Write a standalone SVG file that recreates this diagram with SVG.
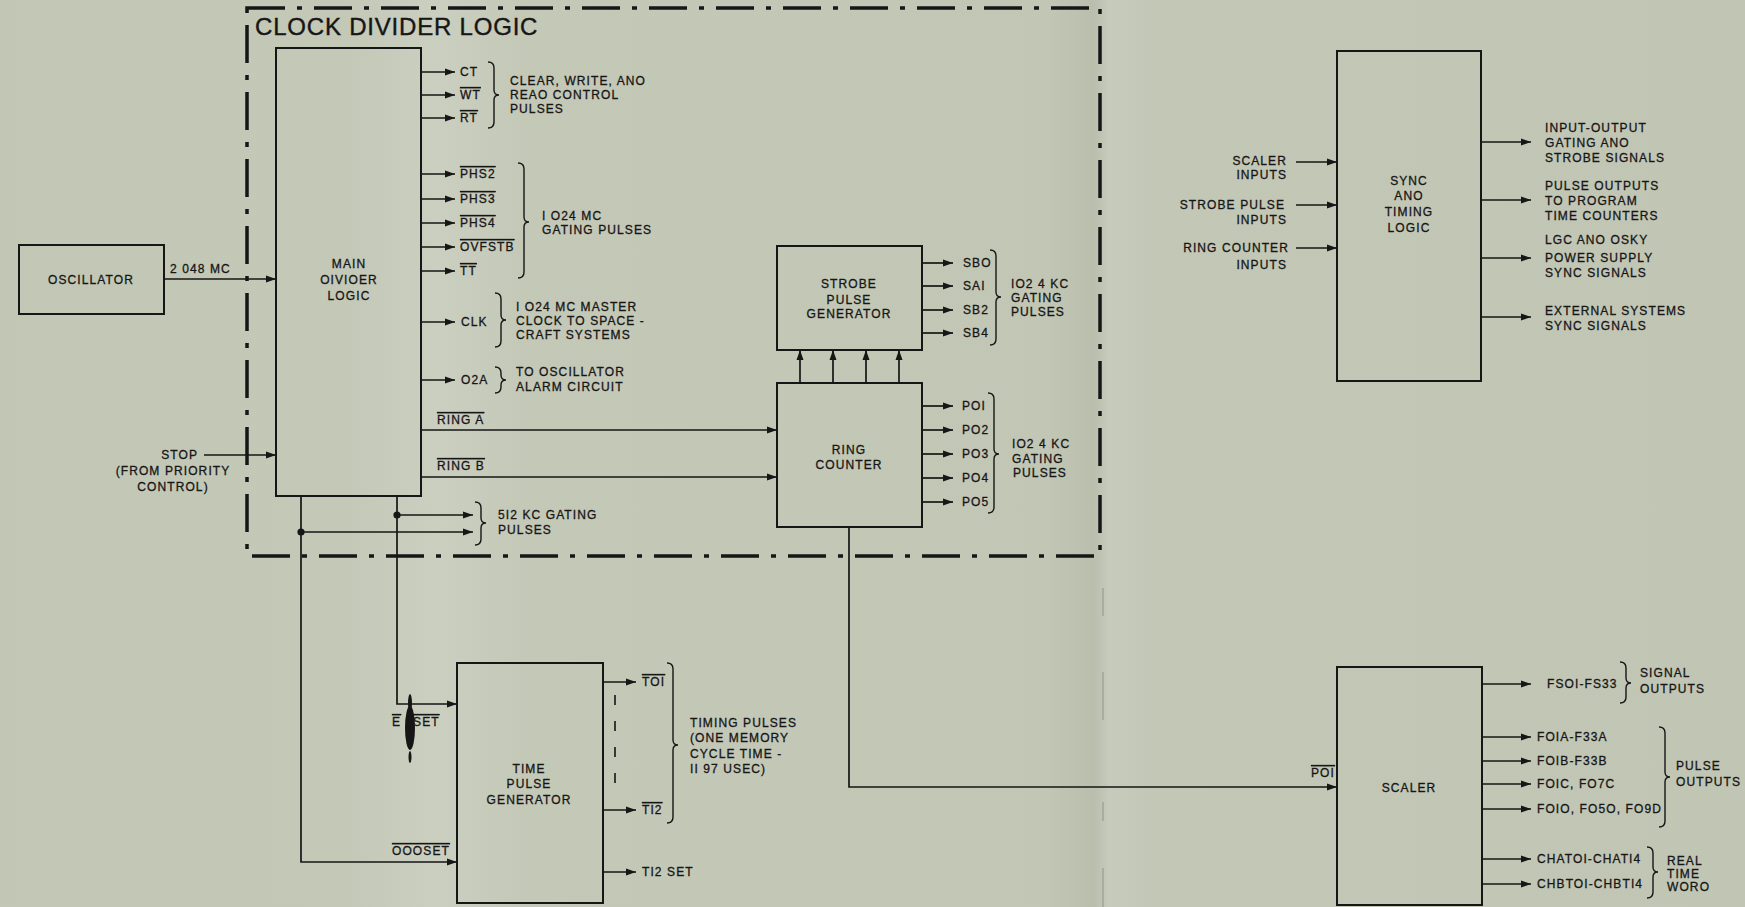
<svg xmlns="http://www.w3.org/2000/svg" width="1745" height="907" viewBox="0 0 1745 907">
<defs>
<linearGradient id="paper" x1="0" y1="0" x2="1745" y2="0" gradientUnits="userSpaceOnUse">
<stop offset="0" stop-color="#c2c6b5"/>
<stop offset="0.2" stop-color="#c4c8b7"/>
<stop offset="0.25" stop-color="#cbcfc0"/>
<stop offset="0.3" stop-color="#c4c8b7"/>
<stop offset="0.6" stop-color="#c2c6b5"/>
<stop offset="0.627" stop-color="#babead"/>
<stop offset="0.636" stop-color="#c7cbbc"/>
<stop offset="0.66" stop-color="#c3c7b6"/>
<stop offset="1" stop-color="#c1c5b4"/>
</linearGradient>
<marker id="ah" markerUnits="userSpaceOnUse" markerWidth="11" markerHeight="8" refX="10" refY="4" orient="auto">
<path d="M0,0.5 L10,4 L0,7.5 z" fill="#161616"/>
</marker>
<style>
text{font-family:"Liberation Sans",Arial,sans-serif;font-size:12px;letter-spacing:1.1px;fill:#161616;stroke:#161616;stroke-width:0.3px}
.title{font-size:24px;letter-spacing:0.8px;stroke-width:0.4px}
.mid{text-anchor:middle}
.end{text-anchor:end}
.ov{text-decoration:overline}
.box{fill:none;stroke:#161616;stroke-width:2}
.ln{fill:none;stroke:#161616;stroke-width:1.6}
.ar{fill:none;stroke:#161616;stroke-width:1.7;marker-end:url(#ah)}
.br{fill:none;stroke:#161616;stroke-width:1.4}
.dot{fill:#161616}
.bound{fill:none;stroke:#161616;stroke-width:3.5;stroke-dasharray:38 12 5 12}
.fold{fill:none;stroke:#8f948a;stroke-width:1}
</style>
</defs>
<rect x="0" y="0" width="1745" height="907" fill="url(#paper)"/>

<g id="clock-divider-boundary">
<rect class="bound" x="247" y="8" width="853" height="548"/>
<text class="title" x="255" y="35">CLOCK DIVIDER LOGIC</text>
</g>
<path class="fold" d="M1103,588 V616 M1103,672 V720 M1103,802 V821 M1103,868 V907"/>

<g id="oscillator">
<rect class="box" x="19" y="245" width="145" height="69"/>
<text class="mid" x="91" y="284">OSCILLATOR</text>
</g>

<g id="main-divider">
<rect class="box" x="276" y="48" width="145" height="448"/>
<text class="mid" x="349" y="268">MAIN</text>
<text class="mid" x="349" y="284">OIVIOER</text>
<text class="mid" x="349" y="300">LOGIC</text>
</g>

<g id="strobe-pulse-generator">
<rect class="box" x="777" y="246" width="145" height="104"/>
<text class="mid" x="849" y="288">STROBE</text>
<text class="mid" x="849" y="304">PULSE</text>
<text class="mid" x="849" y="318">GENERATOR</text>
</g>

<g id="ring-counter">
<rect class="box" x="777" y="383" width="145" height="144"/>
<text class="mid" x="849" y="454">RING</text>
<text class="mid" x="849" y="469">COUNTER</text>
</g>

<g id="time-pulse-generator">
<rect class="box" x="457" y="663" width="146" height="240"/>
<text class="mid" x="529" y="773">TIME</text>
<text class="mid" x="529" y="788">PULSE</text>
<text class="mid" x="529" y="804">GENERATOR</text>
</g>

<g id="sync-timing-logic">
<rect class="box" x="1337" y="51" width="144" height="330"/>
<text class="mid" x="1409" y="185">SYNC</text>
<text class="mid" x="1409" y="200">ANO</text>
<text class="mid" x="1409" y="216">TIMING</text>
<text class="mid" x="1409" y="232">LOGIC</text>
</g>

<g id="scaler">
<rect class="box" x="1337" y="667" width="145" height="238"/>
<text class="mid" x="1409" y="792">SCALER</text>
</g>

<g id="connectors">
<line class="ar" x1="164" y1="279" x2="276" y2="279"/>
<line class="ar" x1="204" y1="455" x2="276" y2="455"/>
<line class="ar" x1="421" y1="72" x2="455" y2="72"/>
<line class="ar" x1="421" y1="95" x2="455" y2="95"/>
<line class="ar" x1="421" y1="118" x2="455" y2="118"/>
<line class="ar" x1="421" y1="174" x2="455" y2="174"/>
<line class="ar" x1="421" y1="199" x2="455" y2="199"/>
<line class="ar" x1="421" y1="223" x2="455" y2="223"/>
<line class="ar" x1="421" y1="247" x2="455" y2="247"/>
<line class="ar" x1="421" y1="271" x2="455" y2="271"/>
<line class="ar" x1="421" y1="322" x2="455" y2="322"/>
<line class="ar" x1="421" y1="380" x2="455" y2="380"/>
<line class="ar" x1="421" y1="430" x2="777" y2="430"/>
<line class="ar" x1="421" y1="477" x2="777" y2="477"/>
<line class="ar" x1="800" y1="383" x2="800" y2="350"/>
<line class="ar" x1="833" y1="383" x2="833" y2="350"/>
<line class="ar" x1="866" y1="383" x2="866" y2="350"/>
<line class="ar" x1="899" y1="383" x2="899" y2="350"/>
<line class="ar" x1="922" y1="263" x2="953" y2="263"/>
<line class="ar" x1="922" y1="286" x2="953" y2="286"/>
<line class="ar" x1="922" y1="310" x2="953" y2="310"/>
<line class="ar" x1="922" y1="333" x2="953" y2="333"/>
<line class="ar" x1="922" y1="406" x2="953" y2="406"/>
<line class="ar" x1="922" y1="430" x2="953" y2="430"/>
<line class="ar" x1="922" y1="454" x2="953" y2="454"/>
<line class="ar" x1="922" y1="478" x2="953" y2="478"/>
<line class="ar" x1="922" y1="502" x2="953" y2="502"/>
<path class="ar" d="M397,496 V704 H457"/>
<path class="ar" d="M301,496 V862 H457"/>
<line class="ar" x1="397" y1="515" x2="473" y2="515"/>
<line class="ar" x1="301" y1="532" x2="473" y2="532"/>
<circle class="dot" cx="397" cy="515" r="3.6"/>
<circle class="dot" cx="301" cy="532" r="3.6"/>
<path class="ar" d="M849,527 V787 H1337"/>
<line class="ar" x1="603" y1="682" x2="636" y2="682"/>
<line class="ar" x1="603" y1="810" x2="636" y2="810"/>
<line class="ar" x1="603" y1="872" x2="636" y2="872"/>
<line class="ln" x1="615" y1="695" x2="615" y2="798" stroke-dasharray="10 16"/>
<line class="ar" x1="1296" y1="162" x2="1337" y2="162"/>
<line class="ar" x1="1296" y1="205" x2="1337" y2="205"/>
<line class="ar" x1="1296" y1="248" x2="1337" y2="248"/>
<line class="ar" x1="1481" y1="142" x2="1531" y2="142"/>
<line class="ar" x1="1481" y1="200" x2="1531" y2="200"/>
<line class="ar" x1="1481" y1="258" x2="1531" y2="258"/>
<line class="ar" x1="1481" y1="317" x2="1531" y2="317"/>
<line class="ar" x1="1482" y1="684" x2="1531" y2="684"/>
<line class="ar" x1="1482" y1="737" x2="1531" y2="737"/>
<line class="ar" x1="1482" y1="761" x2="1531" y2="761"/>
<line class="ar" x1="1482" y1="784" x2="1531" y2="784"/>
<line class="ar" x1="1482" y1="809" x2="1531" y2="809"/>
<line class="ar" x1="1482" y1="859" x2="1531" y2="859"/>
<line class="ar" x1="1482" y1="884" x2="1531" y2="884"/>
</g>

<g id="braces">
<path class="br" d="M488 62 Q494 62 494 68 V90 Q494 95 499 95 Q494 95 494 100 V122 Q494 128 488 128"/>
<path class="br" d="M518 163 Q524 163 524 169 V217 Q524 222 529 222 Q524 222 524 227 V272 Q524 278 518 278"/>
<path class="br" d="M495 293 Q501 293 501 299 V315 Q501 320 506 320 Q501 320 501 325 V341 Q501 347 495 347"/>
<path class="br" d="M495 367 Q501 367 501 373 V375 Q501 380 506 380 Q501 380 501 385 V387 Q501 393 495 393"/>
<path class="br" d="M475 502 Q481 502 481 508 V518 Q481 523 486 523 Q481 523 481 528 V539 Q481 545 475 545"/>
<path class="br" d="M990 250 Q996 250 996 256 V292 Q996 297 1001 297 Q996 297 996 302 V339 Q996 345 990 345"/>
<path class="br" d="M988 393 Q994 393 994 399 V449 Q994 454 999 454 Q994 454 994 459 V507 Q994 513 988 513"/>
<path class="br" d="M667 663 Q673 663 673 669 V740 Q673 745 678 745 Q673 745 673 750 V817 Q673 823 667 823"/>
<path class="br" d="M1620 662 Q1626 662 1626 668 V678 Q1626 683 1631 683 Q1626 683 1626 688 V697 Q1626 703 1620 703"/>
<path class="br" d="M1659 727 Q1665 727 1665 733 V772 Q1665 777 1670 777 Q1665 777 1665 782 V821 Q1665 827 1659 827"/>
<path class="br" d="M1647 847 Q1653 847 1653 853 V867 Q1653 872 1658 872 Q1653 872 1653 877 V892 Q1653 898 1647 898"/>
</g>

<g id="labels">
<text x="170" y="273">2 048 MC</text>
<text class="end" x="198" y="459">STOP</text>
<text class="mid" x="173" y="475">(FROM PRIORITY</text>
<text class="mid" x="173" y="491">CONTROL)</text>

<text x="460" y="76">CT</text>
<text class="ov" x="460" y="99">WT</text>
<text class="ov" x="460" y="122">RT</text>
<text x="510" y="85">CLEAR, WRITE, ANO</text>
<text x="510" y="99">REAO CONTROL</text>
<text x="510" y="113">PULSES</text>

<text class="ov" x="460" y="178">PHS2</text>
<text class="ov" x="460" y="203">PHS3</text>
<text class="ov" x="460" y="227">PHS4</text>
<text class="ov" x="460" y="251">OVFSTB</text>
<text class="ov" x="460" y="275">TT</text>
<text x="542" y="220">I O24 MC</text>
<text x="542" y="234">GATING PULSES</text>

<text x="461" y="326">CLK</text>
<text x="516" y="311">I O24 MC MASTER</text>
<text x="516" y="325">CLOCK TO SPACE -</text>
<text x="516" y="339">CRAFT SYSTEMS</text>

<text x="461" y="384">O2A</text>
<text x="516" y="376">TO OSCILLATOR</text>
<text x="516" y="391">ALARM CIRCUIT</text>

<text class="ov" x="437" y="424">RING A</text>
<text class="ov" x="437" y="470">RING B</text>

<text x="498" y="519">5I2 KC GATING</text>
<text x="498" y="534">PULSES</text>

<text x="963" y="267">SBO</text>
<text x="963" y="290">SAI</text>
<text x="963" y="314">SB2</text>
<text x="963" y="337">SB4</text>
<text x="1011" y="288">IO2 4 KC</text>
<text x="1011" y="302">GATING</text>
<text x="1011" y="316">PULSES</text>

<text x="962" y="410">POI</text>
<text x="962" y="434">PO2</text>
<text x="962" y="458">PO3</text>
<text x="962" y="482">PO4</text>
<text x="962" y="506">PO5</text>
<text x="1012" y="448">IO2 4 KC</text>
<text x="1012" y="463">GATING</text>
<text x="1013" y="477">PULSES</text>

<text class="ov" x="392" y="726">E<tspan dx="12">SET</tspan></text>
<text class="ov" x="392" y="855">OOOSET</text>

<text class="ov" x="642" y="686">TOI</text>
<text class="ov" x="642" y="814">TI2</text>
<text x="642" y="876">TI2 SET</text>
<text x="690" y="727">TIMING PULSES</text>
<text x="690" y="742">(ONE MEMORY</text>
<text x="690" y="758">CYCLE TIME -</text>
<text x="690" y="773">II 97 USEC)</text>

<text class="ov" x="1311" y="777">POI</text>

<text class="end" x="1287" y="165">SCALER</text>
<text class="end" x="1287" y="179">INPUTS</text>
<text class="end" x="1285" y="209">STROBE PULSE</text>
<text class="end" x="1287" y="224">INPUTS</text>
<text class="end" x="1289" y="252">RING COUNTER</text>
<text class="end" x="1287" y="269">INPUTS</text>

<text x="1545" y="132">INPUT-OUTPUT</text>
<text x="1545" y="147">GATING ANO</text>
<text x="1545" y="162">STROBE SIGNALS</text>
<text x="1545" y="190">PULSE OUTPUTS</text>
<text x="1545" y="205">TO PROGRAM</text>
<text x="1545" y="220">TIME COUNTERS</text>
<text x="1545" y="244">LGC ANO OSKY</text>
<text x="1545" y="262">POWER SUPPLY</text>
<text x="1545" y="277">SYNC SIGNALS</text>
<text x="1545" y="315">EXTERNAL SYSTEMS</text>
<text x="1545" y="330">SYNC SIGNALS</text>

<text x="1547" y="688">FSOI-FS33</text>
<text x="1640" y="677">SIGNAL</text>
<text x="1640" y="693">OUTPUTS</text>
<text x="1537" y="741">FOIA-F33A</text>
<text x="1537" y="765">FOIB-F33B</text>
<text x="1537" y="788">FOIC, FO7C</text>
<text x="1537" y="813">FOIO, FO5O, FO9D</text>
<text x="1676" y="770">PULSE</text>
<text x="1676" y="786">OUTPUTS</text>
<text x="1537" y="863">CHATOI-CHATI4</text>
<text x="1537" y="888">CHBTOI-CHBTI4</text>
<text x="1667" y="865">REAL</text>
<text x="1667" y="878">TIME</text>
<text x="1667" y="891">WORO</text>
</g>

<g id="ink-blot">
<ellipse cx="410" cy="728" rx="5" ry="22" fill="#161616"/>
<ellipse cx="410" cy="703" rx="2" ry="9" fill="#161616"/>
<ellipse cx="410" cy="757" rx="1.5" ry="6" fill="#161616"/>
</g>
</svg>
